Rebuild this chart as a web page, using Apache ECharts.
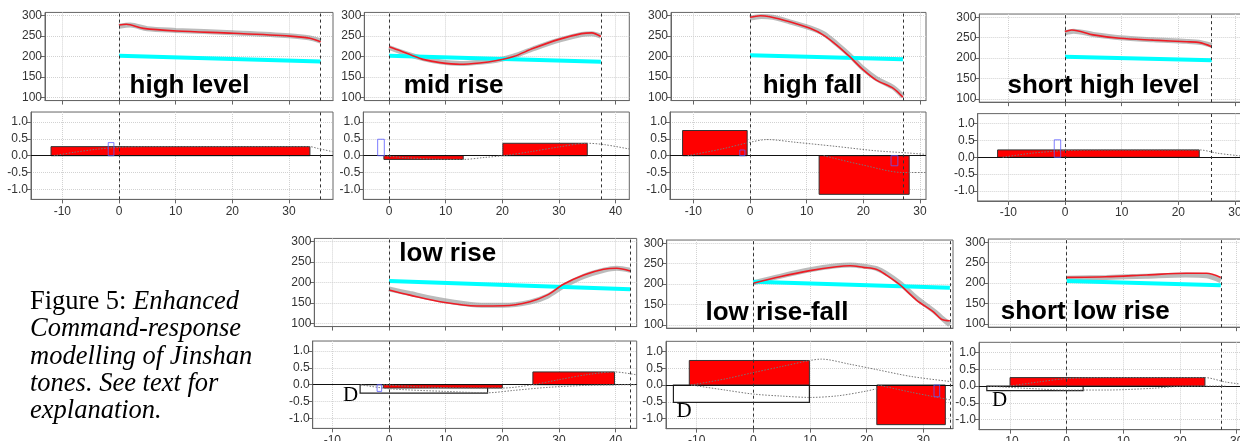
<!DOCTYPE html>
<html>
<head>
<meta charset="utf-8">
<script src="https://cdn.jsdelivr.net/npm/echarts@6/dist/echarts.min.js"></script>
<style>
html,body{margin:0;padding:0;background:#fff;}
#chart{width:1240px;height:441px;}
</style>
</head>
<body>
<div id="chart"></div>
<script>
// tone names and tick values
var toneNames = ['high level', 'mid rise', 'high fall', 'short high level', 'low rise', 'low rise-fall', 'short low rise'];
var xTickValues = [-10, 0, 10, 20, 30, 40];
var f0TickValues = [100, 150, 200, 250, 300];
var cmdTickValues = [-1, -0.5, 0, 0.5, 1];

// F0 curves: [time, Hz]  (red = model, gray = measured, base = baseline)
var hlRed = [[0,277],[1.3,279],[4.3,269],[10.2,262.5],[20.2,257],[30.2,250],[33.7,244.6],[35.6,236]];
var hlGray = [[0,274],[2,277],[5,268],[10,264],[20,258],[30,251],[33.5,246],[35.6,238]];
var hlBase = [[0,202],[35.6,188]];
var mrRed = [[0,224],[2,214],[4,203],[6,193],[9,185],[12.5,181],[16,184],[19,190],[22,200],[25.5,220],[30,242],[34,256],[35.8,258],[37.4,249]];
var mrGray = [[0,222],[3,207],[6,195],[9,187],[12.5,183],[16,186],[19,191],[22,201],[25.5,219],[30,240],[34,254],[35.8,256],[37.4,250]];
var mrBase = [[0,202],[37.4,187]];
var hfRed = [[0,296],[1.8,300],[3.5,297.5],[7,285],[10.6,269],[12.9,253],[15.3,228],[17.6,199.5],[20,167],[22.3,142],[25.3,122],[27,100]];
var hfGray = [[0,294],[2,298],[4,296],[7,285],[10.6,270],[13,256],[15.3,231],[17.6,203],[20,170],[22.3,146],[25.3,124],[27,102]];
var hfBase = [[0,203],[27,193]];
var shlRed = [[0,265],[1.2,269],[5,257],[9.7,248.5],[15.6,244],[21.5,240],[23.8,238],[25.9,228]];
var shlGray = [[0,262],[1.5,266],[5,258],[9.7,250],[15.6,245],[21.5,241],[24,238],[25.9,231]];
var shlBase = [[0,203.5],[25.9,194.6]];
var lrRed = [[0,181.6],[3.7,169],[9.6,151.4],[15.5,142.5],[20.2,143],[24.9,153],[27.9,169],[30.8,195.6],[34.4,218.4],[37.9,232.3],[40.2,234.8],[42.6,228]];
var lrGray = [[0,184],[3.7,173],[9.6,156],[15.5,145],[20.2,144],[24.9,152],[27.9,166],[30.8,191],[34.4,215],[37.9,230],[40.2,235],[42.6,230]];
var lrBase = [[0,203.7],[42.6,183.3]];
var lrfRed = [[0,202],[4.7,218],[10,233],[14.7,242.7],[17.1,245],[19.4,241],[21.8,236],[23.5,222],[25.9,198],[28.8,161],[31.8,132],[33.2,114],[34.7,110]];
var lrfGray = [[0,203],[4.7,219],[10,235],[14.7,245],[17.1,247],[19.4,244],[21.8,238],[23.5,226],[25.9,202],[28.8,166],[31.8,135],[33.2,118],[34.7,100]];
var lrfBase = [[0,206],[34.7,191]];
var slrRed = [[0,214],[7,215.7],[14.1,220],[21.2,224],[24.7,224],[27.2,214]];
var slrGray = [[0,212],[7,214],[14,217],[21,220],[24.7,218],[27.2,206]];
var slrBase = [[0,205],[27.2,195]];
var toneEnds = [35.6, 37.4, 27, 25.9, 42.6, 34.7, 27.2];

// commands: [start, end, low, high]
var hlCmd = [[-12,33.7,0,0.27]];
var hlImp = [[-1.9,-0.9,0,0.39]];
var mrCmd = [[-0.9,13.1,0,-0.11],[20.1,35,0,0.37]];
var mrImp = [[-2,-0.83,0,0.49]];
var hfCmd = [[-11.9,-0.5,0,0.75],[12.2,28.1,0,-1.15]];
var hfImp = [[-1.8,-0.9,0,0.17],[24.9,26.1,0,-0.3]];
var shlCmd = [[-11.9,23.7,0,0.22]];
var shlImp = [[-1.9,-0.76,0,0.52]];
var lrCmd = [[-1,20,0,-0.1],[25.4,39.8,0,0.38]];
var lrDown = [[-5.1,17.4,0,-0.25]];
var lrImp = [[-2.1,-1.3,0,-0.2]];
var lrfCmd = [[-11.3,9.9,0,0.73],[21.8,33.9,0,-1.18]];
var lrfDown = [[-14.1,9.9,0,-0.52]];
var lrfImp = [[31.9,32.9,0,-0.35]];
var slrCmd = [[-10,24.4,0,0.25]];
var slrDown = [[-14.1,2.9,0,-0.14]];

// command responses (dotted)
var hlResp = [[-11.5,0],[-8,0.1],[-4,0.19],[0,0.25],[5,0.27],[33.7,0.27],[35,0.22],[37.7,0.12]];
var mrResp = [[-0.9,0],[3,-0.06],[8,-0.1],[13.1,-0.11],[17,-0.05],[20.1,0],[25,0.12],[30,0.26],[35,0.37],[38,0.33],[42.4,0.2]];
var hfResp1 = [[-11,0],[-5,0.2],[0,0.4],[3,0.48],[8,0.4],[15,0.28],[22,0.15],[28,0.08],[31,0.04]];
var hfResp2 = [[13,0],[20,-0.28],[27,-0.5],[31,-0.5]];
var shlResp = [[-11,0],[-6,0.12],[0,0.2],[5,0.22],[23.7,0.22],[27,0.12],[31,0.04]];
var lrResp1 = [[-1,0],[5,-0.06],[15,-0.1],[20,-0.1],[25.4,0],[30,0.15],[35,0.3],[39.8,0.38],[43.5,0.3]];
var lrResp2 = [[-5,0],[0,-0.12],[10,-0.2],[17.4,-0.24],[22,-0.17],[28,-0.08],[35,-0.02],[43.5,0]];
var lrfResp1 = [[-11,0],[-5,0.18],[0,0.37],[5,0.55],[10,0.73],[12,0.77],[17,0.62],[22,0.45],[28,0.25],[35,0.1]];
var lrfResp2 = [[-11,0],[-5,-0.15],[0,-0.27],[5,-0.33],[10,-0.37],[15,-0.32],[20,-0.18],[22,-0.1]];
var lrfResp3 = [[22,0],[28,-0.22],[35,-0.45]];
var slrResp1 = [[-10,0],[-5,0.12],[0,0.22],[7,0.25],[24.4,0.25],[28,0.12],[32,0.03]];
var slrResp2 = [[-14,0],[-7,-0.07],[0,-0.12],[7,-0.12],[15,-0.07],[20,-0.01],[28,0]];

var panels = [
    {red: hlRed, gray: hlGray, base: hlBase, cmd: hlCmd, down: [], imp: hlImp, resp: [hlResp]},
    {red: mrRed, gray: mrGray, base: mrBase, cmd: mrCmd, down: [], imp: mrImp, resp: [mrResp]},
    {red: hfRed, gray: hfGray, base: hfBase, cmd: hfCmd, down: [], imp: hfImp, resp: [hfResp1, hfResp2]},
    {red: shlRed, gray: shlGray, base: shlBase, cmd: shlCmd, down: [], imp: shlImp, resp: [shlResp]},
    {red: lrRed, gray: lrGray, base: lrBase, cmd: lrCmd, down: lrDown, imp: lrImp, resp: [lrResp1, lrResp2]},
    {red: lrfRed, gray: lrfGray, base: lrfBase, cmd: lrfCmd, down: lrfDown, imp: lrfImp, resp: [lrfResp1, lrfResp2, lrfResp3]},
    {red: slrRed, gray: slrGray, base: slrBase, cmd: slrCmd, down: slrDown, imp: [], resp: [slrResp1, slrResp2]}
];

// pixel layout of each panel (x0 = pixel of time 0)
var layout = [
    {x0: 119, topL: 45, botL: 31, right: 333, y300: 15.7, y0: 155.7, label: [189.5, 86]},
    {x0: 389, topL: 364.3, botL: 363.3, right: 629.3, y300: 15.7, y0: 155.7, label: [453.7, 86]},
    {x0: 750, topL: 671, botL: 670, right: 926, y300: 15.7, y0: 155.7, label: [812.5, 86]},
    {x0: 1065, topL: 979.3, botL: 977.7, right: 1248, y300: 17.3, y0: 157.3, label: [1103.5, 86]},
    {x0: 389, topL: 314.3, botL: 312.7, right: 636.7, y300: 241.7, y0: 384.7, label: [447.7, 254], d: [350.5, 395]},
    {x0: 753.3, topL: 666.7, botL: 666, right: 953, y300: 243.3, y0: 385, label: [777, 312.5], d: [684, 411.5]},
    {x0: 1066.7, topL: 988.3, botL: 979, right: 1248, y300: 242.3, y0: 386, label: [1085.3, 312], d: [999.7, 400.5]}
];

var PX = 5.665, PY_TOP = 0.408, PY_BOT = 33.6;
var FONT = '"Liberation Sans", Arial, sans-serif';
var grids = [], xAxes = [], yAxes = [], series = [], graphics = [];

function inRange(vals, min, max) {
    return vals.filter(function (v) { return v >= min && v <= max; });
}

function makeX(gi, min, max, showLabel) {
    var ticks = inRange(xTickValues, min, max);
    return {
        type: 'value', gridIndex: gi, min: min, max: max,
        axisLine: {show: true, onZero: false, lineStyle: {color: '#666'}},
        axisTick: {show: true, customValues: ticks, length: 4, lineStyle: {color: '#666'}},
        axisLabel: {show: showLabel, customValues: ticks, margin: 6, fontSize: 12, color: '#333', fontFamily: FONT},
        splitLine: {show: true, lineStyle: {color: '#d2d2d2', type: 'dotted'}}
    };
}

function makeY(gi, min, max, ticks, fmt) {
    return {
        type: 'value', gridIndex: gi, min: min, max: max,
        axisLine: {show: true, onZero: false, lineStyle: {color: '#666'}},
        axisTick: {show: true, customValues: ticks, length: 4, lineStyle: {color: '#666'}},
        axisLabel: {customValues: ticks, margin: 3, fontSize: 12, color: '#333', fontFamily: FONT, formatter: fmt},
        splitLine: {show: true, lineStyle: {color: '#d2d2d2', type: 'dotted'}}
    };
}

function rectRender(fill, stroke, lw) {
    return function (params, api) {
        var a = api.coord([api.value(0), api.value(3)]);
        var b = api.coord([api.value(1), api.value(2)]);
        return {
            type: 'rect',
            shape: {x: Math.min(a[0], b[0]), y: Math.min(a[1], b[1]), width: Math.abs(b[0] - a[0]), height: Math.abs(b[1] - a[1])},
            style: {fill: fill, stroke: stroke, lineWidth: lw}
        };
    };
}

function rectSeries(gi, data, fill, stroke, lw, z) {
    return {
        type: 'custom', xAxisIndex: gi, yAxisIndex: gi, data: data, clip: true, silent: true, z: z,
        dimensions: ['x0', 'x1', 'y0', 'y1'], encode: {x: [0, 1], y: [2, 3]},
        renderItem: rectRender(fill, stroke, lw)
    };
}

function makeGrid(left, top, width, height) {
    return {left: left, top: top, width: width, height: height, containLabel: false, outerBoundsMode: 'none',
        show: true, borderColor: '#666', borderWidth: 1, backgroundColor: 'transparent'};
}

var dashStyle = {type: [3, 3], color: '#333', width: 1};

panels.forEach(function (p, i) {
    var L = layout[i];
    var end = toneEnds[i];

    // F0 plot
    var gT = grids.length;
    grids.push(makeGrid(L.topL, L.y300 - 8 * PY_TOP, L.right - L.topL, 216 * PY_TOP));
    xAxes.push(makeX(gT, (L.topL - L.x0) / PX, (L.right - L.x0) / PX, false));
    yAxes.push(makeY(gT, 92, 308, f0TickValues, function (v) { return String(v); }));
    series.push({type: 'line', xAxisIndex: gT, yAxisIndex: gT, data: p.gray, smooth: 0.3, showSymbol: false, silent: true,
        lineStyle: {color: 'rgba(150,150,150,0.65)', width: 5}, z: 2});
    series.push({type: 'line', xAxisIndex: gT, yAxisIndex: gT, data: p.base, showSymbol: false, silent: true,
        lineStyle: {color: '#00ffff', width: 4}, z: 3});
    series.push({type: 'line', xAxisIndex: gT, yAxisIndex: gT, data: p.red, smooth: 0.3, showSymbol: false, silent: true,
        lineStyle: {color: '#ee1c25', width: 1.6}, z: 4,
        markLine: {silent: true, symbol: ['none', 'none'], label: {show: false}, animation: false,
            lineStyle: dashStyle, data: [{xAxis: 0}, {xAxis: end}]}});

    // command plot
    var gB = grids.length;
    grids.push(makeGrid(L.botL, L.y0 - 1.3 * PY_BOT, L.right - L.botL, 2.6 * PY_BOT));
    xAxes.push(makeX(gB, (L.botL - L.x0) / PX, (L.right - L.x0) / PX, true));
    yAxes.push(makeY(gB, -1.3, 1.3, cmdTickValues, function (v) { return v.toFixed(1); }));
    if (p.down.length) series.push(rectSeries(gB, p.down, '#fff', '#222', 1.2, 3));
    series.push(rectSeries(gB, p.cmd, '#ff0000', '#333', 1, 4));
    if (p.imp.length) series.push(rectSeries(gB, p.imp, 'none', '#5a5aff', 0.8, 6));
    p.resp.forEach(function (r, k) {
        var s = {type: 'line', xAxisIndex: gB, yAxisIndex: gB, data: r, smooth: 0.3, showSymbol: false, silent: true,
            lineStyle: {color: '#777', width: 1, type: [1.5, 1.5]}, z: 5};
        if (k === 0) {
            s.markLine = {silent: true, symbol: ['none', 'none'], label: {show: false}, animation: false,
                lineStyle: dashStyle,
                data: [{yAxis: 0, lineStyle: {type: 'solid', color: '#111', width: 1}}, {xAxis: 0}, {xAxis: end}]};
        }
        series.push(s);
    });

    graphics.push({type: 'text', x: L.label[0], y: L.label[1], z: 100,
        style: {text: toneNames[i], fill: '#000', font: 'bold 26px ' + FONT, align: 'center', verticalAlign: 'middle'}});
    if (L.d) {
        graphics.push({type: 'text', x: L.d[0], y: L.d[1], z: 100,
            style: {text: 'D', fill: '#000', font: '21px "Liberation Serif", serif', align: 'center', verticalAlign: 'middle'}});
    }
});

// figure caption
var captionLines = ['Command-response', 'modelling of Jinshan', 'tones. See text for', 'explanation.'];
var SERIF = '"Liberation Serif", "Times New Roman", serif';
graphics.push({type: 'text', x: 30, y: 302, z: 100,
    style: {text: '{n|Figure 5: }{i|Enhanced}', verticalAlign: 'middle', align: 'left',
        rich: {n: {font: '26.5px ' + SERIF, fill: '#000'}, i: {font: 'italic 26.5px ' + SERIF, fill: '#000'}}}});
captionLines.forEach(function (t, k) {
    graphics.push({type: 'text', x: 30, y: 329.5 + k * 27.2, z: 100,
        style: {text: t, fill: '#000', font: 'italic 26.5px ' + SERIF, align: 'left', verticalAlign: 'middle'}});
});

var myChart = echarts.init(document.getElementById('chart'), null, {renderer: 'canvas'});
myChart.setOption({
    animation: false,
    backgroundColor: '#fff',
    grid: grids,
    xAxis: xAxes,
    yAxis: yAxes,
    series: series,
    graphic: graphics
});
</script>
</body>
</html>
